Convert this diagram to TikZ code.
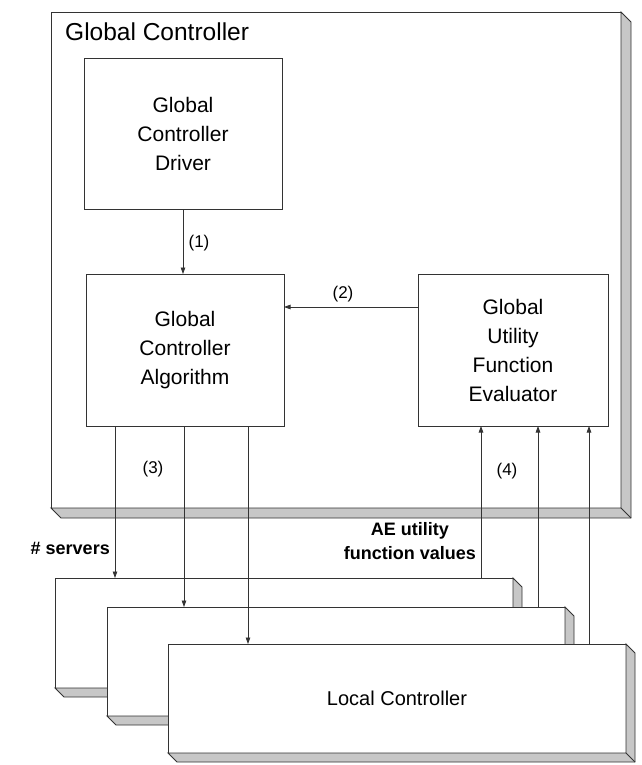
\documentclass[tikz,border=0pt]{standalone}
\usepackage{fontspec}
\setmainfont{Liberation Sans}
\usetikzlibrary{arrows.meta,calc}
\tikzset{
  frontbox/.style={draw=black!80, fill=white, line width=0.9pt, inner sep=0pt, outer sep=0pt, anchor=north west, align=center, font=\fontsize{21}{29}\selectfont},
  shadebox/.style={draw=black!80, fill=black!22, line width=0.9pt, line join=miter},
  conn/.style={draw=black!80, line width=0.8pt, -{Triangle[length=6.5pt,width=4.5pt]}},
  numlabel/.style={font=\fontsize{17}{20}\selectfont, inner sep=0pt},
  boldlabel/.style={font=\bfseries\fontsize{18}{24}\selectfont, align=center, inner sep=0pt},
}
\newcommand{\depthshade}[2]{%
  \path[shadebox] (#1.north east) -- ++(#2,#2) -- ($(#1.south east)+(#2,#2)$) -- ($(#1.south west)+(#2,#2)$) -- (#1.south west) -- (#1.south east) -- cycle;
  \draw[shadebox, fill=none] (#1.south east) -- ++(#2,#2);
}
\begin{document}
\begin{tikzpicture}[x=1pt,y=-1pt]
\useasboundingbox (0,0) rectangle (641,765);

% outer global controller box
\node[frontbox, minimum width=570pt, minimum height=496pt] (gc) at (51,12) {};
\depthshade{gc}{10}
\node[anchor=base west, font=\fontsize{24.5}{28}\selectfont, inner sep=0pt] (gclabel) at (65,41) {Global Controller};

% inner boxes
\node[frontbox, minimum width=198pt, minimum height=151pt] (drv) at (84,58) {Global\\Controller\\Driver};
\node[frontbox, minimum width=198pt, minimum height=152pt] (alg) at (86,274) {Global\\Controller\\Algorithm};
\node[frontbox, minimum width=190pt, minimum height=152pt] (eval) at (418,274) {Global\\Utility\\Function\\Evaluator};

% local controllers
\node[frontbox, minimum width=458pt, minimum height=110pt] (lc1) at (55,578) {};
\depthshade{lc1}{9}
\node[frontbox, minimum width=458pt, minimum height=109pt] (lc2) at (107,607) {};
\depthshade{lc2}{9}
\node[frontbox, minimum width=458pt, minimum height=109pt, font=\fontsize{20}{24}\selectfont] (lc3) at (168,644) {Local Controller};
\depthshade{lc3}{9}

% connectors
\draw[conn] (drv.south) -- (drv.south |- alg.north);
\draw[conn] ([yshift=-33pt]eval.north west) -- ([yshift=-33pt]alg.north east);

\coordinate (d1) at ($(alg.south west)+(29,0)$);
\coordinate (d2) at ($(alg.south west)+(98,0)$);
\coordinate (d3) at ($(alg.south west)+(162,0)$);
\draw[conn] (d1) -- (d1 |- lc1.north);
\draw[conn] (d2) -- (d2 |- lc2.north);
\draw[conn] (d3) -- (d3 |- lc3.north);

\coordinate (u1) at ($(eval.south west)+(63,0)$);
\coordinate (u2) at ($(eval.south west)+(120,0)$);
\coordinate (u3) at ($(eval.south west)+(171,0)$);
\draw[conn] (u1 |- lc1.north) -- (u1);
\draw[conn] (u2 |- lc2.north) -- (u2);
\draw[conn] (u3 |- lc3.north) -- (u3);

% labels
\node[numlabel] (l1) at (199,243) {(1)};
\node[numlabel] (l2) at (343,294) {(2)};
\node[numlabel] (l3) at (153,469) {(3)};
\node[numlabel] (l4) at (507,471) {(4)};
\node[boldlabel, anchor=base east] (srv) at (110,554) {\# servers};
\node[boldlabel, anchor=base east] (aev) at (476,559) {AE utility\\function values};
\end{tikzpicture}
\end{document}
